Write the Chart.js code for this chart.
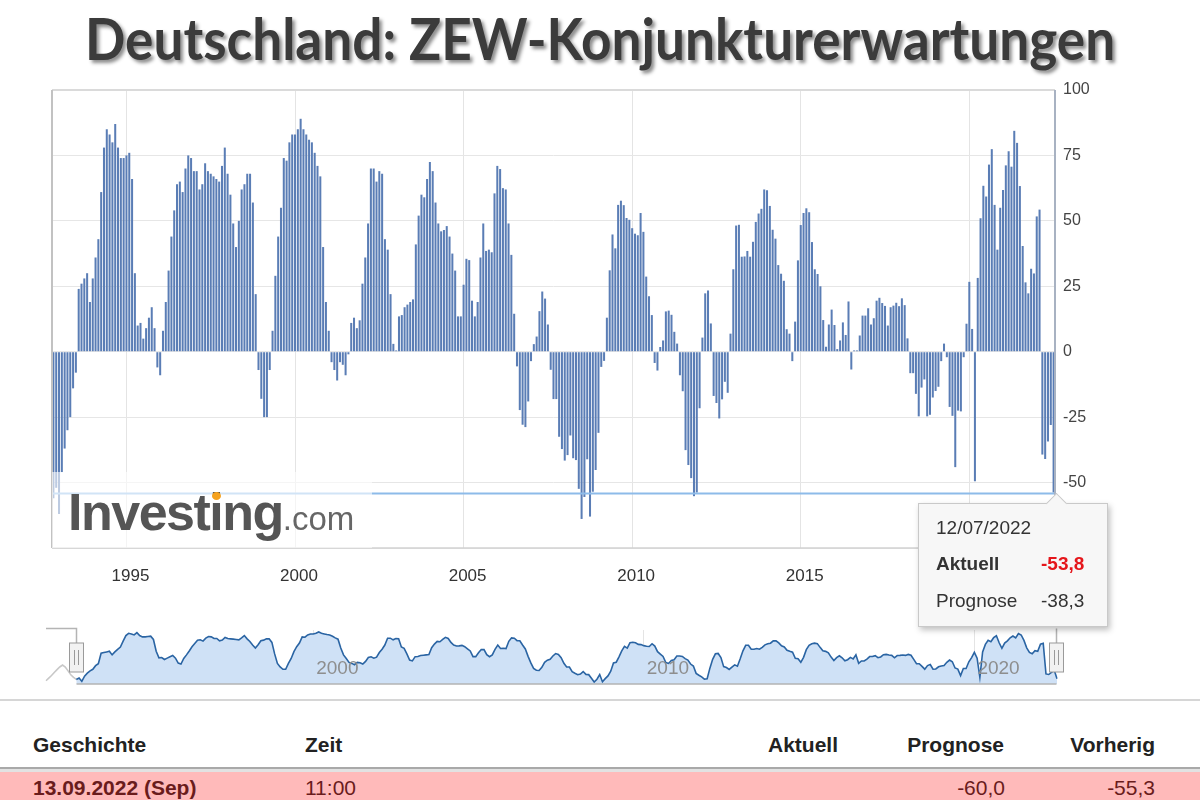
<!DOCTYPE html>
<html>
<head>
<meta charset="utf-8">
<script src="https://cdn.jsdelivr.net/npm/chart.js@4.4.0/dist/chart.umd.min.js"></script>
<style>
body{margin:0;width:1200px;height:800px;background:#fff;position:relative;overflow:hidden;font-family:"Liberation Sans",Arial,sans-serif}
#title{position:absolute;left:0;top:3px;width:1200px;text-align:center;font-family:Lato,"Open Sans",sans-serif;font-weight:700;font-size:58px;line-height:70px;color:#3b3b3b;text-shadow:3px 3px 4px rgba(0,0,0,.45);white-space:nowrap;z-index:2}
#title span{display:inline-block;transform-origin:center}
#main{position:absolute;left:0;top:0;z-index:1}
#nav{position:absolute;left:0;top:612px;z-index:1}
#wm{position:absolute;left:52px;top:472px;width:320px;height:76px;background:rgba(255,255,255,.6);z-index:3}
#wm .txt{position:absolute;left:16px;top:14px;font-size:52px;line-height:52px;font-weight:700;color:#555;letter-spacing:-1.5px;white-space:nowrap}
#wm .txt span{font-size:33px;font-weight:400;color:#666;letter-spacing:0}
#wm .dot{position:absolute;left:160px;top:20px;width:9px;height:8px;border-radius:50%;background:#f5a21f}
#tip{position:absolute;left:918px;top:503px;width:188px;height:122px;background:#f7f7f7;border:1px solid #c9c9c9;box-shadow:2px 3px 6px rgba(0,0,0,.25);z-index:5;font-size:19px;color:#333}
#tip .arrow{position:absolute;left:130px;top:-8px;width:14px;height:14px;background:#f7f7f7;border-left:1px solid #c9c9c9;border-top:1px solid #c9c9c9;transform:rotate(45deg)}
#tip div.t{position:absolute;left:17px;line-height:22px;white-space:nowrap}
#tip div.v{position:absolute;left:122px;line-height:22px}
.navlab{position:absolute;top:657px;font-size:19px;line-height:22px;color:#8e8e8e;z-index:2}
.sep{position:absolute;left:0;width:1200px}
.th{position:absolute;top:733px;font-size:21px;font-weight:700;line-height:24px;color:#222;white-space:nowrap}
.td{position:absolute;top:776px;font-size:21px;line-height:24px;color:#6a1c1c;white-space:nowrap}
</style>
</head>
<body>
<div id="title"><span>Deutschland: ZEW-Konjunkturerwartungen</span></div>
<canvas id="main" width="1200" height="610"></canvas>
<canvas id="nav" width="1200" height="80"></canvas>
<div id="navlabels"></div>
<div id="wm"><div class="txt">Investing<span>.com</span></div><div class="dot"></div></div>
<div id="tip"><div class="arrow"></div></div>

<div class="sep" style="top:699px;height:2px;background:#d6d6d6"></div>
<div class="sep" style="top:767px;height:2px;background:#a9a9a9"></div>
<div class="sep" style="top:769px;height:3px;background:#e2e2e2"></div>
<div class="sep" style="top:772px;height:28px;background:#ffbaba"></div>
<div id="table"></div>

<script>
// ZEW Konjunkturerwartungen, monatlich (Nov 1992 - Jul 2022)
const y1992 = [-56, -52]; // Nov, Dez
const y1993 = [-62, -46, -37, -30, -25, -14, -8, 24, 26, 28, 30, 19];
const y1994 = [28, 36, 43, 61, 78, 85, 83, 80, 87, 78, 74, 74];
const y1995 = [75, 76, 66, 30, 10, 11, 5, 9, 13, 17, 9, -6];
const y1996 = [-9, 8, 19, 31, 44, 54, 64, 65, 61, 70, 75, 74];
const y1997 = [69, 69, 62, 64, 72, 69, 68, 67, 66, 65, 71, 78];
const y1998 = [68, 60, 49, 40, 50, 62, 64, 68, 68, 57, 22, -7];
const y1999 = [-18, -25, -25, -7, 8, 29, 44, 55, 74, 73, 80, 83];
const y2000 = [83, 85, 89, 85, 83, 81, 80, 76, 71, 67, 40, 19];
const y2001 = [8, -4, -7, -11, -4, -5, -9, -1, 11, 13, 9, 12];
const y2002 = [26, 36, 49, 70, 70, 65, 69, 68, 43, 39, 22, 3];
const y2003 = [0.5, 13.5, 14, 17, 18, 19, 20, 41, 52, 60, 59, 66];
const y2004 = [72.5, 69, 57, 49, 46, 46.5, 48, 44, 37.5, 31, 13.5, 13.5];
const y2005 = [25.6, 35.5, 35, 19.5, 13.5, 19, 36, 49, 38.5, 39, 38, 60.5];
const y2006 = [71, 69.8, 62.5, 62, 49, 37, 14.5, -5.6, -22.3, -27.9, -28.8, -19];
const y2007 = [-3.6, 2.9, 5.8, 15.5, 23, 20.3, 10.4, -6.9, -18.1, -18.1, -32.5, -37.2];
const y2008 = [-41.6, -39.5, -32.0, -40.7, -41.4, -52.4, -63.9, -55.5, -41.1, -63.0, -53.5, -45.2];
const y2009 = [-31.0, -5.8, -3.5, 13.0, 31.1, 44.8, 39.5, 56.1, 57.7, 56.0, 51.1, 50.4];
const y2010 = [47.2, 45.1, 44.5, 53.0, 45.8, 28.7, 21.2, 14.0, -4.3, -7.2, 1.8, 4.3];
const y2011 = [15.4, 15.7, 14.1, 7.6, 3.1, -9.0, -15.1, -37.6, -43.3, -48.3, -55.2, -53.8];
const y2012 = [-21.6, 5.4, 22.3, 23.4, 10.8, -16.9, -19.6, -25.5, -18.2, -11.5, -15.7, 6.9];
const y2013 = [31.5, 48.2, 48.5, 36.3, 36.4, 38.5, 36.3, 42.0, 49.6, 52.8, 54.6, 62.0];
const y2014 = [61.7, 55.7, 46.6, 43.2, 33.1, 29.8, 27.1, 8.6, 6.9, -3.6, 11.5, 34.9];
const y2015 = [48.4, 53.0, 54.8, 53.3, 41.9, 31.5, 29.7, 25.0, 12.1, 1.9, 10.4, 16.1];
const y2016 = [10.2, 1.0, 4.3, 11.2, 6.4, 19.2, -6.8, 0.5, 0.5, 6.2, 13.8, 13.8];
const y2017 = [16.6, 10.4, 12.8, 19.5, 20.6, 18.6, 17.5, 10.0, 17.0, 17.6, 18.7, 17.4];
const y2018 = [20.4, 17.8, 5.1, -8.2, -8.2, -16.1, -24.7, -13.7, -10.6, -24.7, -24.1, -17.5];
const y2019 = [-15.0, -13.4, -3.6, 3.1, -2.1, -21.1, -24.5, -44.1, -22.5, -22.8, -2.1, 10.7];
const y2020 = [26.7, 8.7, -49.5, 28.2, 51.0, 63.4, 59.3, 71.5, 77.4, 56.1, 39.0, 55.0];
const y2021 = [61.8, 71.2, 76.6, 70.7, 84.4, 79.8, 63.3, 40.4, 26.5, 22.3, 31.7, 29.9];
const y2022 = [51.7, 54.3, -39.3, -41.0, -34.3, -28.0, -53.8]; // Jan - Jul

// nur im Navigator sichtbar (Dez 1991 - Okt 1992)
const nav1991 = [-60];
const nav1992 = [-52, -44, -35, -26, -18, -12, -18, -30, -42, -50];

const xTickYears = [1995, 2000, 2005, 2010, 2015, 2020];
const navTickYears = [2000, 2010, 2020];

const tipDate = "12/07/2022";
const tipActual = -53.8;
const tipForecast = -38.3;

const tableHead = ["Geschichte", "Zeit", "Aktuell", "Prognose", "Vorherig"];
const rowDate = "13.09.2022 (Sep)";
const rowTime = "11:00";
const rowForecast = -60.0;
const rowPrevious = -55.3;

const yearArrays = [y1992,y1993,y1994,y1995,y1996,y1997,y1998,y1999,y2000,y2001,y2002,y2003,y2004,y2005,y2006,y2007,y2008,y2009,y2010,y2011,y2012,y2013,y2014,y2015,y2016,y2017,y2018,y2019,y2020,y2021,y2022];

const labels=[];
const values=[];
yearArrays.forEach((arr,i)=>{
  const year=1992+i;
  const first=(i===0)?11:1;
  arr.forEach((v,j)=>{
    labels.push(year+"-"+String(first+j).padStart(2,"0"));
    values.push(v);
  });
});

const navLabels=["1991-12"];
nav1992.forEach((v,j)=>navLabels.push("1992-"+String(j+1).padStart(2,"0")));
const navPrefixLen=navLabels.length;
labels.forEach(l=>navLabels.push(l));
const navValues=[].concat(nav1991,nav1992,values);

const fmt=v=>v.toFixed(1).replace(".",",");
const isYearTick=(lab,years)=>lab && lab.endsWith("-01") && years.includes(+lab.slice(0,4));

Chart.defaults.font.family='"Liberation Sans", Arial, sans-serif';

/* TITLE */
const tspan=document.querySelector("#title span");
tspan.style.transform="scaleX("+(1030/tspan.offsetWidth)+")";

/* MAIN CHART */
const framePlugin={
  id:"frame",
  afterDatasetsDraw(chart){
    const {ctx,chartArea:a,scales:{y}}=chart;
    ctx.save();
    const cy=Math.round(y.getPixelForValue(tipActual))+0.5;
    ctx.strokeStyle="#8dbbe9";
    ctx.lineWidth=2;
    ctx.beginPath();ctx.moveTo(a.left,cy);ctx.lineTo(a.right,cy);ctx.stroke();
    ctx.strokeStyle="#dadada";
    ctx.beginPath();ctx.moveTo(a.left,a.top);ctx.lineTo(a.right,a.top);ctx.stroke();
    ctx.strokeStyle="#c2c2c2";
    ctx.beginPath();ctx.moveTo(a.left,a.top);ctx.lineTo(a.left,a.bottom);ctx.stroke();
    ctx.strokeStyle="#d2d2d2";
    ctx.lineWidth=1.5;
    ctx.beginPath();ctx.moveTo(a.left,a.bottom);ctx.lineTo(a.right,a.bottom);ctx.stroke();
    ctx.strokeStyle="#a8b2c2";
    ctx.lineWidth=2;
    ctx.beginPath();ctx.moveTo(a.right,a.top);ctx.lineTo(a.right,a.bottom);ctx.stroke();
    ctx.restore();
  }
};

new Chart(document.getElementById("main"),{
  type:"bar",
  data:{
    labels:labels,
    datasets:[{
      data:values,
      backgroundColor:"#5a7db5",
      barPercentage:0.72,
      categoryPercentage:1
    }]
  },
  options:{
    responsive:false,
    animation:false,
    layout:{padding:{left:52,top:90,right:0,bottom:0}},
    plugins:{legend:{display:false},tooltip:{enabled:false}},
    scales:{
      x:{
        offset:true,
        border:{display:false},
        grid:{
          offset:false,
          drawTicks:false,
          color:c=>isYearTick(labels[c.index],xTickYears)?"#e4e4e4":"rgba(0,0,0,0)"
        },
        ticks:{
          autoSkip:false,
          maxRotation:0,
          minRotation:0,
          padding:18,
          labelOffset:4,
          color:"#333",
          font:{size:17},
          callback:(v,i)=>isYearTick(labels[i],xTickYears)?labels[i].slice(0,4):""
        },
        afterFit:s=>{s.height=62;}
      },
      y:{
        position:"right",
        min:-75,
        max:100,
        border:{display:false},
        grid:{color:"#e6e6e6",drawTicks:false},
        ticks:{
          stepSize:25,
          padding:8,
          color:"#444",
          font:{size:16},
          callback:v=>v===-75?"":v
        },
        afterFit:s=>{s.width=145;}
      }
    }
  },
  plugins:[framePlugin]
});

/* NAVIGATOR */
const navPlugin={
  id:"navDeco",
  afterDraw(chart){
    const {ctx,chartArea:a,scales:{x}}=chart;
    const selL=Math.round(x.getPixelForValue(navPrefixLen))+0.5;
    const selR=Math.round(x.getPixelForValue(navLabels.length-1))-0.5;
    const top=a.top-1.5, hTop=31, hH=29;
    ctx.save();
    ctx.strokeStyle="#b4b4b4";
    ctx.lineWidth=1.5;
    ctx.beginPath();
    ctx.moveTo(a.left,top);ctx.lineTo(selL,top);ctx.lineTo(selL,hTop);
    ctx.moveTo(selR,top);ctx.lineTo(selR,hTop);
    ctx.moveTo(selL,a.bottom);ctx.lineTo(selR,a.bottom);
    ctx.stroke();
    [selL,selR].forEach(hx=>{
      ctx.fillStyle="#f2f2f2";
      ctx.strokeStyle="#9a9a9a";
      ctx.lineWidth=1;
      ctx.fillRect(hx-7,hTop,14,hH);
      ctx.strokeRect(hx-7,hTop,14,hH);
      ctx.beginPath();
      ctx.moveTo(hx-2,hTop+7);ctx.lineTo(hx-2,hTop+hH-7);
      ctx.moveTo(hx+2,hTop+7);ctx.lineTo(hx+2,hTop+hH-7);
      ctx.stroke();
    });
    ctx.restore();
  }
};

const navChart=new Chart(document.getElementById("nav"),{
  type:"line",
  data:{
    labels:navLabels,
    datasets:[{
      data:navValues,
      borderColor:"#2a64a3",
      borderWidth:1.6,
      backgroundColor:"#cfe1f6",
      fill:"start",
      pointRadius:0,
      tension:0,
      segment:{
        borderColor:c=>c.p0DataIndex<navPrefixLen?"#c8c8c8":undefined,
        backgroundColor:c=>c.p0DataIndex<navPrefixLen?"rgba(0,0,0,0)":undefined
      }
    }]
  },
  options:{
    responsive:false,
    animation:false,
    layout:{padding:{left:46,top:18,right:143,bottom:0}},
    plugins:{legend:{display:false},tooltip:{enabled:false}},
    scales:{
      x:{
        offset:false,
        border:{display:false},
        grid:{
          drawTicks:false,
          color:c=>isYearTick(navLabels[c.index],navTickYears)?"#e4e4e4":"rgba(0,0,0,0)"
        },
        ticks:{display:false},
        afterFit:s=>{s.height=8;}
      },
      y:{display:false,min:-70,max:95}
    }
  },
  plugins:[navPlugin]
});

// Jahreslabels im Navigator, an den Pixeln der Skala ausgerichtet
let navHtml="";
navLabels.forEach((lab,i)=>{
  if(isYearTick(lab,navTickYears)){
    const px=navChart.scales.x.getPixelForValue(i)+3;
    navHtml+='<div class="navlab" style="left:'+px.toFixed(1)+'px">'+lab.slice(0,4)+'</div>';
  }
});
document.getElementById("navlabels").innerHTML=navHtml;

/* TOOLTIP */
const tip=document.getElementById("tip");
tip.insertAdjacentHTML("beforeend",
  '<div class="t" style="top:13px">'+tipDate+'</div>'+
  '<div class="t" style="top:49px;font-weight:700">Aktuell</div>'+
  '<div class="v" style="top:49px;font-weight:700;color:#e5161b">'+fmt(tipActual)+'</div>'+
  '<div class="t" style="top:86px">Prognose</div>'+
  '<div class="v" style="top:86px">'+fmt(tipForecast)+'</div>');

/* TABLE */
const headRight=[null,null,838,1004,1155];
const headLeft=[33,305,null,null,null];
let html="";
tableHead.forEach((h,i)=>{
  if(headLeft[i]!==null) html+='<div class="th" style="left:'+headLeft[i]+'px">'+h+'</div>';
  else html+='<div class="th" style="right:'+(1200-headRight[i])+'px">'+h+'</div>';
});
html+='<div class="td" style="left:33px;font-weight:700">'+rowDate+'</div>';
html+='<div class="td" style="left:305px">'+rowTime+'</div>';
html+='<div class="td" style="right:'+(1200-1005)+'px">'+fmt(rowForecast)+'</div>';
html+='<div class="td" style="right:'+(1200-1155)+'px">'+fmt(rowPrevious)+'</div>';
document.getElementById("table").innerHTML=html;
</script>
</body>
</html>
